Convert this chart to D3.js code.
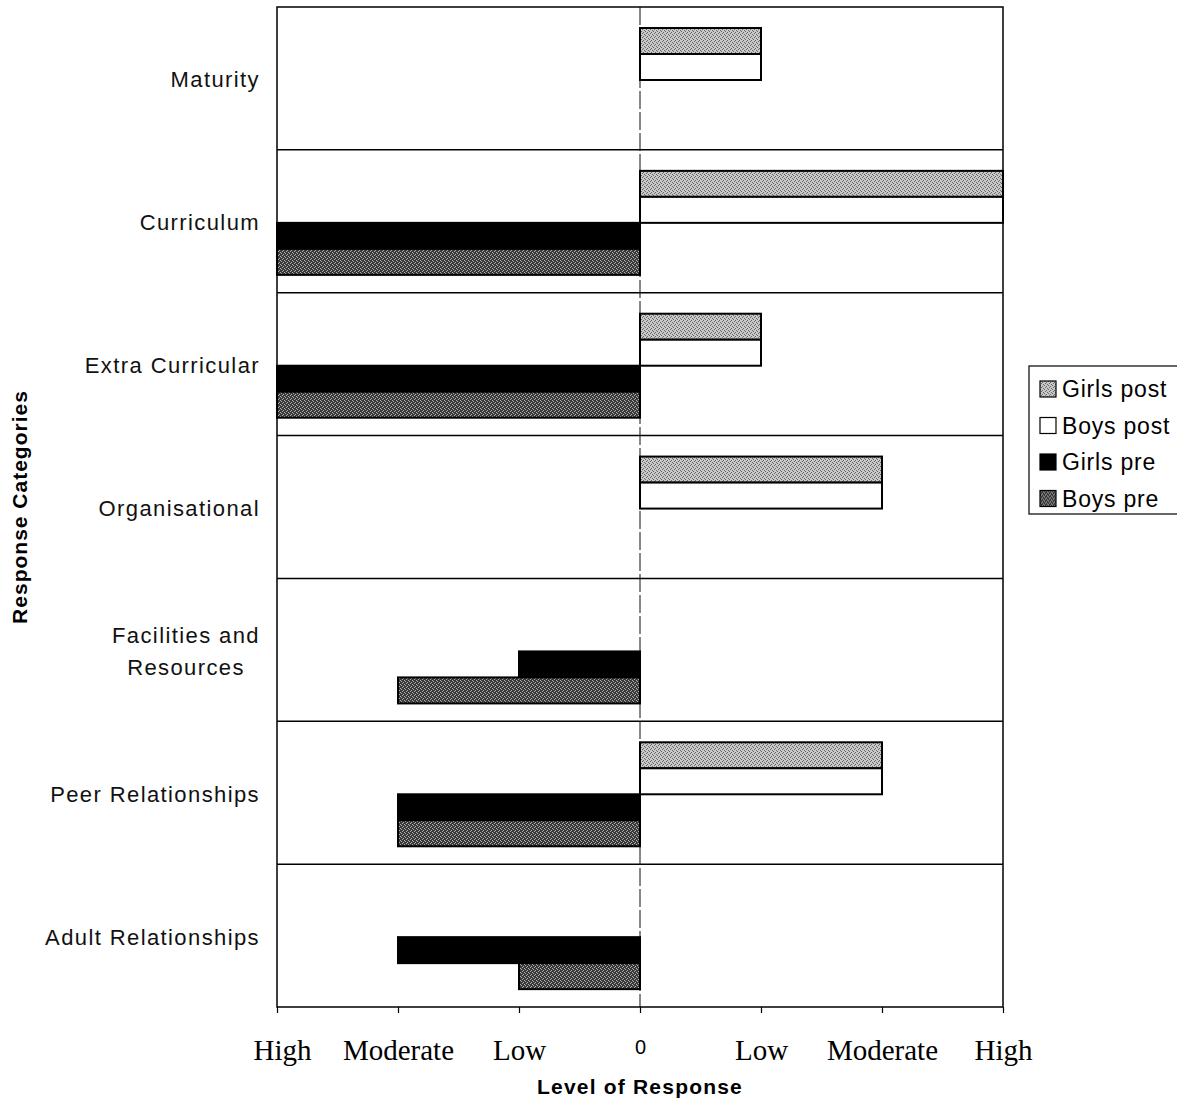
<!DOCTYPE html>
<html>
<head>
<meta charset="utf-8">
<script src="https://cdn.jsdelivr.net/npm/d3@7"></script>
<style>
  body { margin: 0; background: #fff; }
  svg { display: block; }
</style>
</head>
<body>
<svg id="chart" width="1177" height="1100"></svg>
<script>
// Response categories, top to bottom; "\n" splits a label over two lines
const categories = [
  "Maturity",
  "Curriculum",
  "Extra Curricular",
  "Organisational",
  "Facilities and\nResources",
  "Peer Relationships",
  "Adult Relationships"
];

const seriesNames = ["Girls post", "Boys post", "Girls pre", "Boys pre"];

// Post responses plot to the right of zero, pre responses to the left
const girlsPost = [1, 3, 1, 2, 0, 2, 0];
const boysPost  = [1, 3, 1, 2, 0, 2, 0];
const girlsPre  = [0, -3, -3, 0, -1, -2, -2];
const boysPre   = [0, -3, -3, 0, -2, -2, -1];

const tickValues = [-3, -2, -1, 0, 1, 2, 3];
const tickLabels = ["High", "Moderate", "Low", "0", "Low", "Moderate", "High"];

const seriesValues = [girlsPost, boysPost, girlsPre, boysPre];

const svg = d3.select("#chart");
const margin = { left: 277, right: 174, top: 7, bottom: 93 };
const width = 1177 - margin.left - margin.right;
const height = 1100 - margin.top - margin.bottom;
const sans = "Liberation Sans, Arial, sans-serif";
const serif = "Liberation Serif, Times New Roman, serif";

// Stippled fills for the printed-halftone look
const defs = svg.append("defs");
function stipple(id, base, dot, cells) {
  const p = defs.append("pattern")
    .attr("id", id).attr("patternUnits", "userSpaceOnUse")
    .attr("width", 4).attr("height", 4);
  p.append("rect").attr("width", 4).attr("height", 4).attr("fill", base);
  cells.forEach(([cx, cy]) => p.append("rect")
    .attr("x", cx).attr("y", cy).attr("width", 1).attr("height", 1).attr("fill", dot));
}
stipple("girlsPostFill", "#c8c8c8", "#666666", [[0, 0], [2, 1], [1, 2], [3, 3]]);
stipple("boysPostFill", "#ffffff", "#ffffff", []);
stipple("girlsPreFill", "#000000", "#000000", []);
stipple("boysPreFill", "#3a3a3a", "#b0b0b0", [[1, 0], [3, 1], [0, 2], [2, 3]]);
const fills = ["url(#girlsPostFill)", "url(#boysPostFill)", "url(#girlsPreFill)", "url(#boysPreFill)"];

const g = svg.append("g").attr("transform", `translate(${margin.left},${margin.top})`);

const x = d3.scaleLinear().domain([-3, 3]).range([0, width]);
const y = d3.scaleBand().domain(categories).range([0, height]).padding(0);
const barH = 26;
const yInner = d3.scaleBand().domain(seriesNames)
  .range([21, 21 + barH * seriesNames.length]).padding(0);

// Band separators
g.selectAll("line.sep")
  .data(categories.slice(1))
  .join("line")
  .attr("class", "sep")
  .attr("x1", 0).attr("x2", width)
  .attr("y1", d => y(d)).attr("y2", d => y(d))
  .attr("stroke", "#000").attr("stroke-width", 1.5);

// Zero reference line
g.append("line")
  .attr("x1", x(0)).attr("x2", x(0))
  .attr("y1", 0).attr("y2", height)
  .attr("stroke", "#111").attr("stroke-width", 1)
  .attr("stroke-dasharray", "18,3");

// Bars
const bars = [];
seriesNames.forEach((s, si) => {
  categories.forEach((c, ci) => {
    const v = seriesValues[si][ci];
    if (v !== 0) bars.push({ series: s, si, category: c, value: v });
  });
});

g.selectAll("rect.bar")
  .data(bars)
  .join("rect")
  .attr("class", "bar")
  .attr("x", d => x(Math.min(0, d.value)))
  .attr("width", d => Math.abs(x(d.value) - x(0)))
  .attr("y", d => y(d.category) + yInner(d.series))
  .attr("height", yInner.bandwidth())
  .attr("fill", d => fills[d.si])
  .attr("stroke", "#000").attr("stroke-width", 2);

// Plot frame
g.append("rect")
  .attr("x", 0).attr("y", 0).attr("width", width).attr("height", height)
  .attr("fill", "none").attr("stroke", "#000").attr("stroke-width", 1.5);

// Category labels, right aligned next to the plot
const labelRight = -17;
categories.forEach(c => {
  const lines = c.split("\n");
  const t = g.append("text")
    .attr("font-family", sans)
    .attr("font-size", 22)
    .attr("letter-spacing", 1.4)
    .attr("fill", "#111");
  const lh = 32;
  const cy = y(c) + y.bandwidth() / 2;
  lines.forEach((ln, i) => {
    t.append("tspan")
      .attr("y", cy + (i - (lines.length - 1) / 2) * lh + 9)
      .text(ln);
  });
  // widest line sets the block; shorter lines are centred within it
  let maxW = 0;
  t.selectAll("tspan").each(function () { maxW = Math.max(maxW, this.getComputedTextLength()); });
  t.attr("text-anchor", "middle");
  t.selectAll("tspan").attr("x", labelRight - maxW / 2);
});

// Bottom axis
const axis = d3.axisBottom(x)
  .tickValues(tickValues)
  .tickSize(6)
  .tickFormat((d, i) => tickLabels[i]);
const ax = g.append("g").attr("transform", `translate(0,${height})`).call(axis);
ax.select(".domain").remove();
ax.selectAll(".tick line").attr("stroke", "#000").attr("stroke-width", 1.2);
ax.selectAll(".tick text")
  .attr("fill", "#000")
  .attr("dy", null)
  .attr("x", d => d === -3 ? 5 : 0)
  .attr("y", d => d === 0 ? 47 : 53)
  .attr("font-family", d => d === 0 ? sans : serif)
  .attr("font-size", d => d === 0 ? 20 : 29);

// Axis titles
svg.append("text")
  .attr("x", margin.left + x(0)).attr("y", 1094)
  .attr("text-anchor", "middle")
  .attr("font-family", sans)
  .attr("font-weight", "bold").attr("font-size", 21)
  .attr("letter-spacing", 1.2)
  .text("Level of Response");

svg.append("text")
  .attr("transform", "translate(27,507) rotate(-90)")
  .attr("text-anchor", "middle")
  .attr("font-family", sans)
  .attr("font-weight", "bold").attr("font-size", 21)
  .attr("letter-spacing", 1)
  .text("Response Categories");

// Legend
const lg = svg.append("g").attr("transform", "translate(1029,366)");
lg.append("rect")
  .attr("width", 150).attr("height", 148)
  .attr("fill", "#fff").attr("stroke", "#000").attr("stroke-width", 1.2);
const items = lg.selectAll("g.item")
  .data(seriesNames)
  .join("g")
  .attr("class", "item")
  .attr("transform", (d, i) => `translate(11,${15 + i * 36.5})`);
items.append("rect")
  .attr("width", 16).attr("height", 16)
  .attr("fill", (d, i) => fills[i])
  .attr("stroke", "#000").attr("stroke-width", 1.2);
items.append("text")
  .attr("x", 22).attr("y", 16)
  .attr("font-family", sans)
  .attr("font-size", 23).attr("fill", "#000")
  .attr("letter-spacing", 0.8)
  .text(d => d);
</script>
</body>
</html>
